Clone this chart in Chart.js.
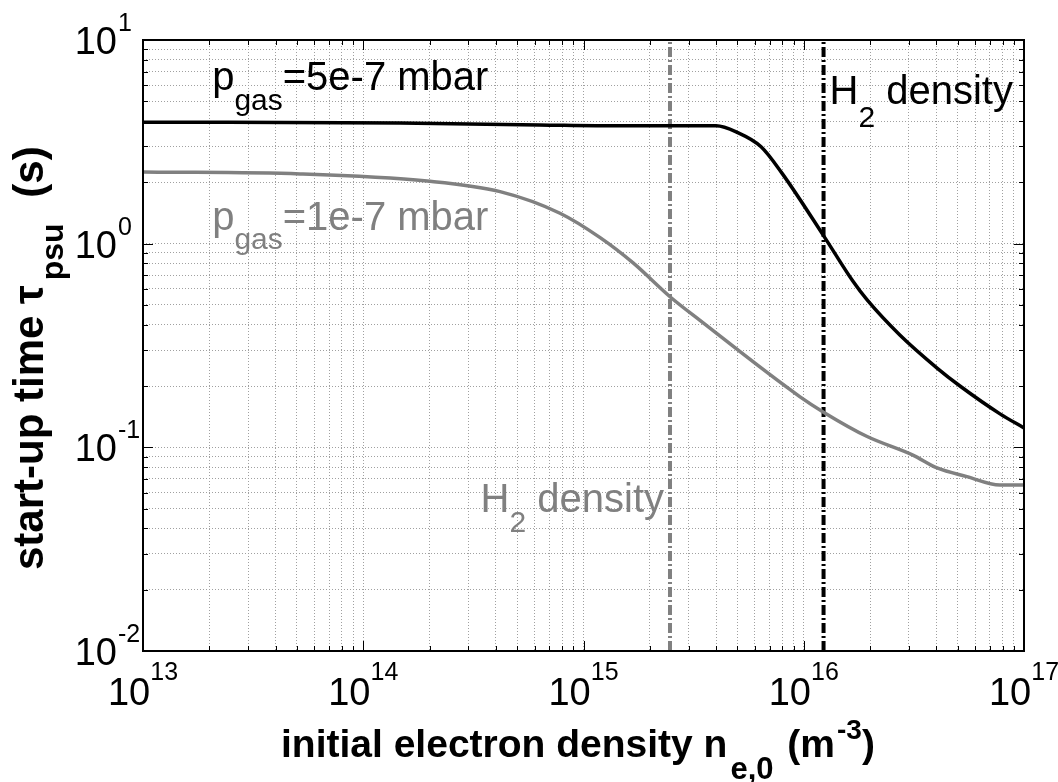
<!DOCTYPE html>
<html lang="en">
<head>
<meta charset="UTF-8">
<meta name="viewport" content="width=device-width, initial-scale=1.0">
<script src="https://cdn.jsdelivr.net/npm/chart.js@4.4.1/dist/chart.umd.min.js"></script>
<title>Start-up time vs initial electron density</title>
<style>
    body { margin: 0; background: #fff; }
    canvas { display: block; }
</style>
</head>
<body>

<canvas id="chart" width="1058" height="782"></canvas>

<script>
// initial electron density (m^-3) and start-up time (s), p_gas = 5e-7 mbar
const densityHigh = [1e13, 1.47e14, 6.3e14, 1.47e15, 4.0e15, 4.98e15, 6.4e15, 7.96e15, 1.24e16, 1.67e16, 1.94e16, 2.73e16, 4.03e16, 5.12e16, 7.78e16, 1e17];
const timeHigh = [3.95, 3.91, 3.83, 3.79, 3.79, 3.52, 2.99, 2.22, 1.08, 0.655, 0.529, 0.356, 0.245, 0.200, 0.146, 0.1245];

// same for p_gas = 1e-7 mbar
const densityLow = [1e13, 5.17e13, 1.95e14, 4.18e14, 7.82e14, 1.19e15, 1.68e15, 2.47e15, 3.38e15, 9.62e15, 1.24e16, 1.94e16, 3.13e16, 4.03e16, 5.51e16, 7.78e16, 1e17];
const timeLow = [2.25, 2.20, 2.03, 1.80, 1.41, 1.07, 0.804, 0.549, 0.42, 0.177, 0.148, 0.113, 0.0916, 0.0792, 0.0718, 0.0653, 0.0653];

// H2 density at each pressure
const h2DensityLow = 2.47e15;
const h2DensityHigh = 1.23e16;

// decades on each axis and the steps inside a decade
const xDecades = [13, 14, 15, 16, 17];
const yDecades = [-2, -1, 0, 1];
const decadeSteps = [1, 2, 3, 4, 5, 6, 7, 8, 9];

const FONT = '"Liberation Sans", Arial, sans-serif';
const GRAY = '#808080';

function font(size, bold) {
    return (bold ? 'bold ' : '') + size + 'px ' + FONT;
}

function toPoints(xs, ys) {
    return xs.map((x, i) => ({ x: x, y: ys[i] }));
}

function decadeTicks(decades) {
    const ticks = [];
    for (let i = 0; i < decades.length - 1; i++) {
        decadeSteps.forEach(m => {
            ticks.push({ value: m * Math.pow(10, decades[i]), major: m === 1 });
        });
    }
    ticks.push({ value: Math.pow(10, decades[decades.length - 1]), major: true });
    return ticks;
}

// draws a run of text pieces on one line; dy shifts sub/superscripts, gap adds space before a piece
function drawParts(ctx, parts, x, y, align) {
    const widths = parts.map(p => {
        ctx.font = p.font;
        return ctx.measureText(p.text).width + (p.gap || 0);
    });
    const total = widths.reduce((a, b) => a + b, 0);
    let cx = align === 'center' ? x - total / 2 : align === 'right' ? x - total : x;
    parts.forEach((p, i) => {
        ctx.font = p.font;
        ctx.fillStyle = p.color || '#000';
        ctx.fillText(p.text, cx + (p.gap || 0), y + (p.dy || 0));
        cx += widths[i];
    });
}

const frame = {
    id: 'frame',
    afterDatasetsDraw(chart) {
        const { ctx, chartArea: a, scales: { x, y } } = chart;
        ctx.save();
        ctx.strokeStyle = '#000';
        ctx.lineWidth = 1;
        ctx.beginPath();
        x.ticks.forEach(t => {
            const px = Math.round(x.getPixelForValue(t.value)) + 0.5;
            const len = t.major ? 10 : 5;
            ctx.moveTo(px, a.bottom); ctx.lineTo(px, a.bottom - len);
            ctx.moveTo(px, a.top); ctx.lineTo(px, a.top + len);
        });
        y.ticks.forEach(t => {
            const py = Math.round(y.getPixelForValue(t.value)) + 0.5;
            const len = t.major ? 10 : 5;
            ctx.moveTo(a.left, py); ctx.lineTo(a.left + len, py);
            ctx.moveTo(a.right, py); ctx.lineTo(a.right - len, py);
        });
        ctx.stroke();
        ctx.lineWidth = 2;
        ctx.strokeRect(a.left, a.top, a.right - a.left, a.bottom - a.top);
        ctx.restore();
    },
    afterDraw(chart) {
        const { ctx, chartArea: a, scales: { x, y } } = chart;
        ctx.save();
        ctx.textAlign = 'left';
        ctx.textBaseline = 'alphabetic';

        // tick labels 10^n
        xDecades.forEach(d => {
            const px = x.getPixelForValue(Math.pow(10, d));
            drawParts(ctx, [
                { text: '10', font: font(38) },
                { text: String(d), font: font(25), dy: -25 }
            ], px, a.bottom + 54, 'center');
        });
        yDecades.forEach(d => {
            const py = y.getPixelForValue(Math.pow(10, d));
            drawParts(ctx, [{ text: '10', font: font(38) }], a.left - 26, py + 14, 'right');
            drawParts(ctx, [{ text: String(d), font: font(25) }], a.left - 25, py - 9, 'left');
        });

        // x axis title
        drawParts(ctx, [
            { text: 'initial electron density n', font: font(39, true) },
            { text: 'e,0', font: font(31, true), dy: 22, gap: 3 },
            { text: ' (m', font: font(39, true), gap: 3 },
            { text: '-3', font: font(28, true), dy: -18, gap: 2 },
            { text: ')', font: font(39, true) }
        ], 281, a.bottom + 106, 'left');

        // y axis title
        ctx.save();
        ctx.translate(43, 570);
        ctx.rotate(-Math.PI / 2);
        drawParts(ctx, [
            { text: 'start-up time \u03c4', font: font(42, true) },
            { text: 'psu', font: font(32, true), dy: 20, gap: 5 },
            { text: ' (s)', font: font(42, true), gap: 14 }
        ], 0, 0, 'left');
        ctx.restore();

        // curve labels
        const lx = x.getPixelForValue(2.06e13);
        drawParts(ctx, [
            { text: 'p', font: font(40) },
            { text: 'gas', font: font(30), dy: 20 },
            { text: '=5e-7 mbar', font: font(40) }
        ], lx, y.getPixelForValue(5.68), 'left');
        drawParts(ctx, [
            { text: 'p', font: font(40), color: GRAY },
            { text: 'gas', font: font(30), dy: 19, color: GRAY },
            { text: '=1e-7 mbar', font: font(40), color: GRAY }
        ], lx, y.getPixelForValue(1.165), 'left');

        // H2 density markers
        drawParts(ctx, [
            { text: 'H', font: font(40) },
            { text: '2', font: font(30), dy: 23 },
            { text: ' density', font: font(40) }
        ], x.getPixelForValue(h2DensityHigh) + 6, y.getPixelForValue(4.85), 'left');
        drawParts(ctx, [
            { text: 'H', font: font(40), color: GRAY },
            { text: '2', font: font(30), dy: 20, color: GRAY },
            { text: ' density', font: font(40), color: GRAY }
        ], x.getPixelForValue(h2DensityLow) - 6, y.getPixelForValue(0.048), 'right');

        ctx.restore();
    }
};

function logAxis(min, max, decades) {
    return {
        type: 'logarithmic',
        min: min,
        max: max,
        afterBuildTicks: scale => { scale.ticks = decadeTicks(decades); },
        ticks: { display: false, autoSkip: false },
        grid: { color: '#a0a0a0', lineWidth: 1, drawTicks: false },
        border: { display: false, dash: [1, 2] },
        title: { display: false }
    };
}

new Chart(document.getElementById('chart'), {
    type: 'line',
    data: {
        datasets: [
            {
                data: toPoints(densityHigh, timeHigh),
                borderColor: '#000',
                borderWidth: 3.5,
                cubicInterpolationMode: 'monotone',
                pointRadius: 0
            },
            {
                data: toPoints(densityLow, timeLow),
                borderColor: GRAY,
                borderWidth: 3.5,
                cubicInterpolationMode: 'monotone',
                pointRadius: 0
            },
            {
                data: toPoints([h2DensityHigh, h2DensityHigh], [0.01, 10]),
                borderColor: '#000',
                borderWidth: 4,
                borderDash: [10, 3, 2, 3],
                pointRadius: 0
            },
            {
                data: toPoints([h2DensityLow, h2DensityLow], [0.01, 10]),
                borderColor: GRAY,
                borderWidth: 4,
                borderDash: [10, 3, 2, 3],
                pointRadius: 0
            }
        ]
    },
    options: {
        responsive: false,
        animation: false,
        layout: { padding: { left: 143, top: 40, right: 34, bottom: 131 } },
        plugins: { legend: { display: false }, tooltip: { enabled: false } },
        scales: {
            x: logAxis(1e13, 1e17, xDecades),
            y: logAxis(0.01, 10, yDecades)
        }
    },
    plugins: [frame]
});
</script>
</body>
</html>
